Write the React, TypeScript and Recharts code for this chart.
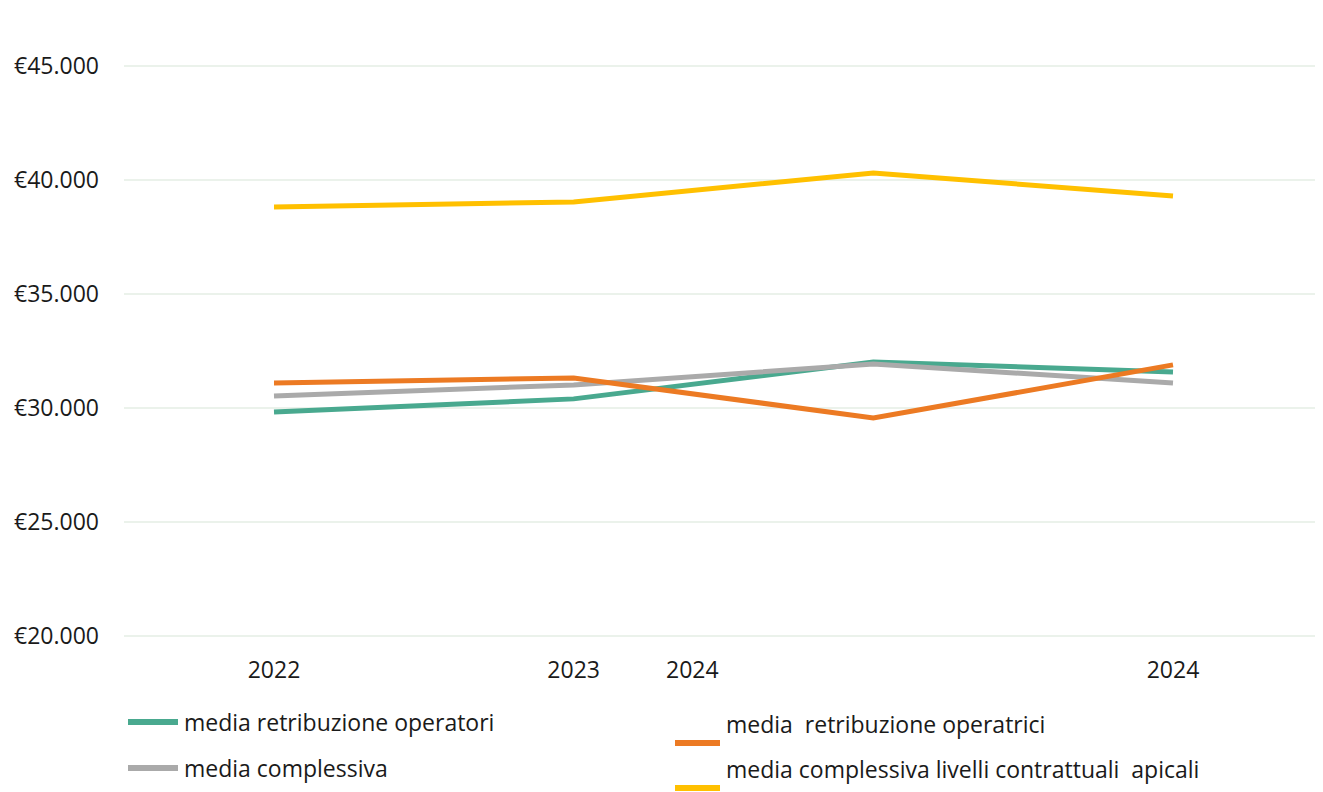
import React from "react";
import {
  LineChart,
  Line,
  CartesianGrid,
  XAxis,
  YAxis,
  Legend,
} from "recharts";

// anni (the third point is labelled off-centre in the original)
const years = ["2022", "2023", "2024", "2024"];

const operatori = [29820, 30400, 32020, 31580];
const operatrici = [31100, 31320, 29560, 31890];
const complessiva = [30530, 31010, 31930, 31100];
const apicali = [38820, 39040, 40310, 39300];

const yTicks = [20000, 25000, 30000, 35000, 40000, 45000];

const data = years.map((year, i) => ({
  year,
  operatori: operatori[i],
  operatrici: operatrici[i],
  complessiva: complessiva[i],
  apicali: apicali[i],
}));

const FONT = "'Open Sans', sans-serif";
const FS = 23;

const series = [
  { key: "operatori", name: "media retribuzione operatori", color: "#49a98f" },
  { key: "complessiva", name: "media complessiva", color: "#aaaaaa" },
  { key: "operatrici", name: "media  retribuzione operatrici", color: "#ec7a23" },
  { key: "apicali", name: "media complessiva livelli contrattuali  apicali", color: "#ffc000" },
];

const euro = (v: number) => "€" + v.toLocaleString("it-IT").replace(/\s/g, ".");

const XTick = (props: any) => {
  const { x, y, payload, index } = props;
  const shift = index === 2 ? -181 : 0;
  return (
    <text
      x={x + shift}
      y={y}
      dy="0.71em"
      textAnchor="middle"
      fill="#1a1a1a"
      fontSize={FS}
      fontFamily={FONT}
    >
      {payload.value}
    </text>
  );
};

// legend slots: [markerLeft, markerTop, markerWidth, textLeft, textCenter]
const legendSlots: Record<string, number[]> = {
  operatori: [120, 19, 50, 176, 22],
  complessiva: [120, 65, 50, 176, 68],
  operatrici: [667, 40, 45, 718, 24],
  apicali: [667, 85, 45, 718, 69],
};

const LegendBox = () => (
  <div style={{ position: "relative", width: 1315, height: 92, fontFamily: FONT }}>
    {series.map((s) => {
      const [ml, mt, mw, tl, tc] = legendSlots[s.key];
      return (
        <React.Fragment key={s.key}>
          <div
            style={{
              position: "absolute",
              left: ml,
              top: mt,
              width: mw,
              height: 6,
              background: s.color,
            }}
          />
          <div
            style={{
              position: "absolute",
              left: tl,
              top: tc - 16,
              fontSize: FS,
              lineHeight: "32px",
              color: "#1a1a1a",
              whiteSpace: "pre",
            }}
          >
            {s.name}
          </div>
        </React.Fragment>
      );
    })}
  </div>
);

export default function App() {
  return (
    <div style={{ width: 1315, height: 784 }}>
      <LineChart
        width={1315}
        height={784}
        data={data}
        margin={{ top: 58, right: -8, bottom: 4, left: 0 }}
      >
        <CartesianGrid vertical={false} stroke="#ebf2eb" strokeWidth={2} />
        <XAxis
          dataKey="year"
          axisLine={false}
          tickLine={false}
          tickSize={0}
          tickMargin={26}
          height={60}
          padding={{ left: 150, right: 158 }}
          tick={<XTick />}
          interval={0}
        />
        <YAxis
          domain={[20000, 45000]}
          ticks={yTicks}
          width={116}
          axisLine={false}
          tickLine={false}
          tickSize={0}
          tickMargin={25}
          tickFormatter={euro}
          tick={{ fill: "#1a1a1a", fontSize: FS, fontFamily: FONT }}
        />
        <Legend
          content={<LegendBox />}
          wrapperStyle={{ position: "absolute", left: 0, top: 692, width: 1315, height: 92 }}
        />
        {series.map((s) => (
          <Line
            key={s.key}
            type="linear"
            dataKey={s.key}
            name={s.name}
            stroke={s.color}
            strokeWidth={5}
            dot={false}
            activeDot={false}
            isAnimationActive={false}
          />
        ))}
      </LineChart>
    </div>
  );
}
